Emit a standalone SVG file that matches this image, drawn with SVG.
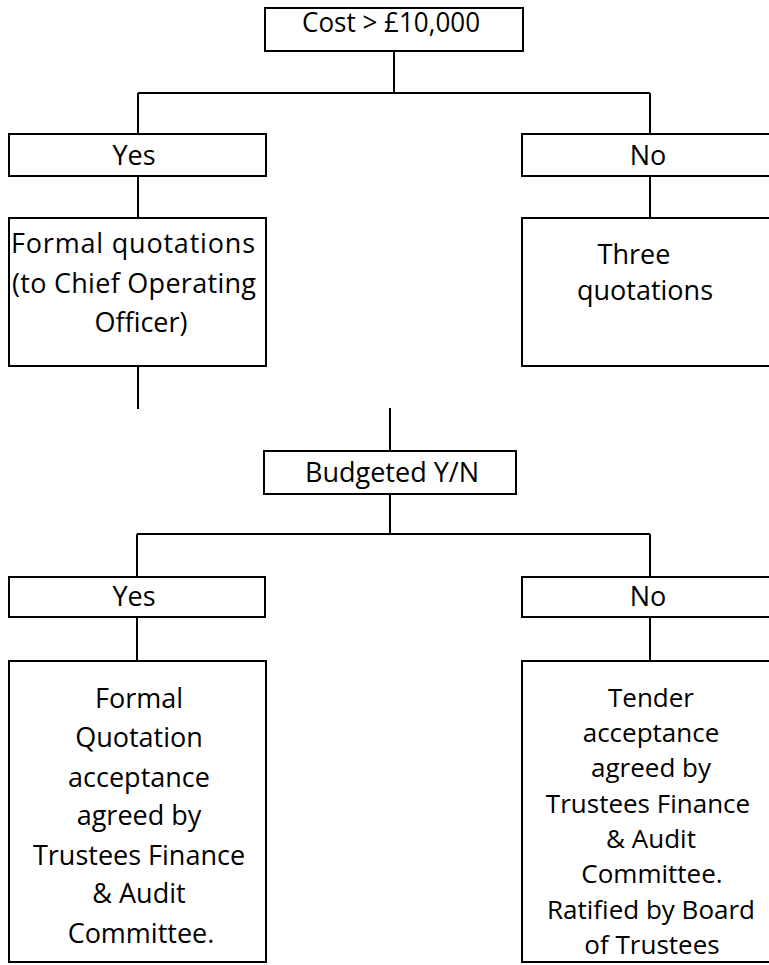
<svg xmlns="http://www.w3.org/2000/svg" width="769" height="965" viewBox="0 0 769 965">
<style>
  .box { fill: #ffffff; stroke: #000000; stroke-width: 2; }
  .conn { fill: none; stroke: #000000; stroke-width: 2; }
  text { font-family: "Open Sans", "Noto Sans", "Liberation Sans", sans-serif; font-size: 27px; fill: #000000; text-anchor: middle; }
  .small { font-size: 26px; }
</style>
<rect x="0" y="0" width="769" height="965" fill="#ffffff"/>
<g id="connectors">
  <path class="conn" d="M394 51 V93 M138 93 H650 M138 93 V134 M650 93 V134"/>
  <path class="conn" d="M138 176 V218 M650 176 V218"/>
  <path class="conn" d="M138 366 V409"/>
  <path class="conn" d="M390 408 V451"/>
  <path class="conn" d="M390 494 V534 M137 534 H650 M137 534 V577 M650 534 V577"/>
  <path class="conn" d="M137 617 V661 M650 617 V661"/>
</g>
<g id="cost">
  <rect class="box" x="265" y="8" width="258" height="43"/>
  <text x="391" y="32" textLength="178" lengthAdjust="spacingAndGlyphs">Cost &gt; £10,000</text>
</g>
<g id="yes1">
  <rect class="box" x="9" y="134" width="257" height="42"/>
  <text x="134" y="165">Yes</text>
</g>
<g id="no1">
  <rect class="box" x="522" y="134" width="260" height="42"/>
  <text x="648" y="165">No</text>
</g>
<g id="formal-quotations">
  <rect class="box" x="9" y="218" width="257" height="148"/>
  <text x="133" y="253" textLength="244" lengthAdjust="spacing">Formal quotations</text>
  <text x="134" y="293" textLength="244" lengthAdjust="spacing">(to Chief Operating</text>
  <text x="141" y="332">Officer)</text>
</g>
<g id="three-quotations">
  <rect class="box" x="522" y="218" width="260" height="148"/>
  <text x="634" y="264">Three</text>
  <text x="645" y="300">quotations</text>
</g>
<g id="budgeted">
  <rect class="box" x="264" y="451" width="252" height="43"/>
  <text x="392" y="482">Budgeted Y/N</text>
</g>
<g id="yes2">
  <rect class="box" x="9" y="577" width="256" height="40"/>
  <text x="134" y="606">Yes</text>
</g>
<g id="no2">
  <rect class="box" x="522" y="577" width="260" height="40"/>
  <text x="648" y="606">No</text>
</g>
<g id="formal-acceptance">
  <rect class="box" x="9" y="661" width="257" height="301"/>
  <text x="139" y="708">Formal</text>
  <text x="139" y="747">Quotation</text>
  <text x="139" y="787">acceptance</text>
  <text x="139" y="825">agreed by</text>
  <text x="139" y="865">Trustees Finance</text>
  <text x="139" y="903">&amp; Audit</text>
  <text x="141" y="943">Committee.</text>
</g>
<g id="tender-acceptance">
  <rect class="box" x="522" y="661" width="260" height="301"/>
  <text class="small" x="651" y="707">Tender</text>
  <text class="small" x="651" y="742">acceptance</text>
  <text class="small" x="651" y="777">agreed by</text>
  <text class="small" x="648" y="813">Trustees Finance</text>
  <text class="small" x="651" y="848">&amp; Audit</text>
  <text class="small" x="652" y="883">Committee.</text>
  <text class="small" x="651" y="919">Ratified by Board</text>
  <text class="small" x="652" y="954">of Trustees</text>
</g>
</svg>
